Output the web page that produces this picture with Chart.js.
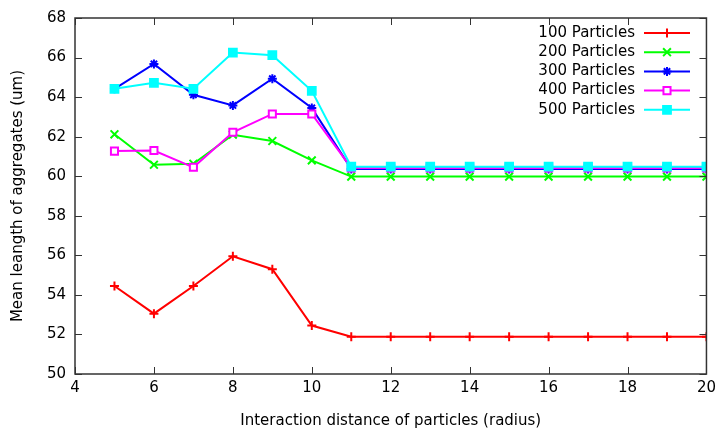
<!DOCTYPE html>
<html>
<head>
<meta charset="utf-8">
<script src="https://cdn.jsdelivr.net/npm/chart.js@4/dist/chart.umd.min.js"></script>
<style>
  html, body { margin: 0; padding: 0; background: #fff; }
  #wrap { width: 721px; height: 430px; }
</style>
</head>
<body>
<div id="wrap"><canvas id="chart" width="721" height="430"></canvas></div>
<script>
var distances = [5, 6, 7, 8, 9, 10, 11, 12, 13, 14, 15, 16, 17, 18, 19, 20];
var p100 = [54.45, 53.05, 54.45, 55.95, 55.3, 52.45, 51.88, 51.88, 51.88, 51.88, 51.88, 51.88, 51.88, 51.88, 51.88, 51.88];
var p200 = [62.12, 60.58, 60.63, 62.1, 61.78, 60.8, 59.98, 59.98, 59.98, 59.98, 59.98, 59.98, 59.98, 59.98, 59.98, 59.98];
var p300 = [64.42, 65.68, 64.12, 63.58, 64.93, 63.45, 60.37, 60.37, 60.37, 60.37, 60.37, 60.37, 60.37, 60.37, 60.37, 60.37];
var p400 = [61.27, 61.3, 60.45, 62.22, 63.15, 63.15, 60.42, 60.42, 60.42, 60.42, 60.42, 60.42, 60.42, 60.42, 60.42, 60.42];
var p500 = [64.42, 64.72, 64.42, 66.25, 66.12, 64.32, 60.48, 60.48, 60.48, 60.48, 60.48, 60.48, 60.48, 60.48, 60.48, 60.48];
var seriesLabels = ['100 Particles', '200 Particles', '300 Particles', '400 Particles', '500 Particles'];

var FONT = "'DejaVu Sans', sans-serif";

function pts(vals) {
    return vals.map(function(v, i) { return { x: distances[i], y: v }; });
}

function makeSet(label, vals, color, style, radius, fill, order) {
    return {
        label: label,
        data: pts(vals),
        borderColor: color,
        backgroundColor: fill,
        borderWidth: 2,
        pointStyle: style,
        pointRadius: radius,
        pointBorderColor: color,
        pointBackgroundColor: fill,
        pointBorderWidth: 2,
        tension: 0,
        order: order
    };
}

var datasets = [
    makeSet(seriesLabels[0], p100, '#ff0000', 'cross', 4.5, '#ff0000', 4),
    makeSet(seriesLabels[1], p200, '#00ff00', 'crossRot', 5.5, '#00ff00', 3),
    makeSet(seriesLabels[2], p300, '#0000ff', 'star', 4.5, '#0000ff', 2),
    makeSet(seriesLabels[3], p400, '#ff00ff', 'rect', 5, '#ffffff', 1),
    makeSet(seriesLabels[4], p500, '#00ffff', 'rect', 5.5, '#00ffff', 0)
];

// gnuplot style frame with inward ticks on all sides
var framePlugin = {
    id: 'frame',
    afterDatasetsDraw: function(chart) {
        var ctx = chart.ctx, a = chart.chartArea;
        var xs = chart.scales.x, ys = chart.scales.y;
        ctx.save();
        ctx.strokeStyle = '#333';
        ctx.lineWidth = 1;
        ctx.beginPath();
        xs.ticks.forEach(function(t) {
            var px = Math.round(xs.getPixelForValue(t.value)) + 0.5;
            ctx.moveTo(px, a.bottom); ctx.lineTo(px, a.bottom - 7);
            ctx.moveTo(px, a.top); ctx.lineTo(px, a.top + 7);
        });
        ys.ticks.forEach(function(t) {
            var py = Math.round(ys.getPixelForValue(t.value)) + 0.5;
            ctx.moveTo(a.left, py); ctx.lineTo(a.left + 7, py);
            ctx.moveTo(a.right, py); ctx.lineTo(a.right - 7, py);
        });
        ctx.stroke();
        ctx.lineWidth = 1.5;
        ctx.strokeRect(a.left, a.top, a.right - a.left, a.bottom - a.top);
        ctx.restore();
    }
};

// key in the top right, text then line sample
var keyPlugin = {
    id: 'key',
    afterDraw: function(chart) {
        var ctx = chart.ctx;
        ctx.save();
        ctx.font = '15px ' + FONT;
        ctx.textAlign = 'right';
        ctx.textBaseline = 'middle';
        chart.data.datasets.forEach(function(ds, i) {
            var y = 33 + i * 19.2;
            ctx.fillStyle = '#000';
            ctx.fillText(ds.label, 635, y);
            ctx.strokeStyle = ds.borderColor;
            ctx.lineWidth = 2;
            ctx.beginPath();
            ctx.moveTo(644, y); ctx.lineTo(690, y);
            ctx.stroke();
            if (Chart.helpers && Chart.helpers.drawPoint) {
                ctx.fillStyle = ds.pointBackgroundColor;
                ctx.strokeStyle = ds.pointBorderColor;
                Chart.helpers.drawPoint(ctx, {
                    pointStyle: ds.pointStyle,
                    radius: ds.pointRadius,
                    rotation: 0,
                    borderWidth: 2
                }, 667, y);
            }
        });
        ctx.restore();
    }
};

new Chart(document.getElementById('chart'), {
    type: 'line',
    data: { datasets: datasets },
    options: {
        responsive: false,
        animation: false,
        layout: { padding: { left: 0, right: 14, top: 15, bottom: 0 } },
        scales: {
            x: {
                type: 'linear',
                min: 4,
                max: 20,
                ticks: { stepSize: 2, color: '#000', font: { size: 15, family: FONT }, padding: 5, maxRotation: 0 },
                grid: { display: true, drawOnChartArea: false, drawTicks: false },
                border: { display: false },
                title: { display: true, text: 'Interaction distance of particles (radius)', color: '#000', font: { size: 15, family: FONT }, padding: { top: 4, bottom: 0 } },
                afterFit: function(s) { s.height = 56; }
            },
            y: {
                min: 50,
                max: 68,
                ticks: { stepSize: 2, color: '#000', font: { size: 15, family: FONT }, padding: 9 },
                grid: { display: true, drawOnChartArea: false, drawTicks: false },
                border: { display: false },
                title: { display: true, text: 'Mean leangth of aggregates (um)', color: '#000', font: { size: 15, family: FONT }, padding: { top: 9, bottom: 4 } },
                afterFit: function(s) { s.width = 75; }
            }
        },
        plugins: {
            legend: { display: false },
            tooltip: { enabled: false }
        }
    },
    plugins: [framePlugin, keyPlugin]
});
</script>
</body>
</html>
